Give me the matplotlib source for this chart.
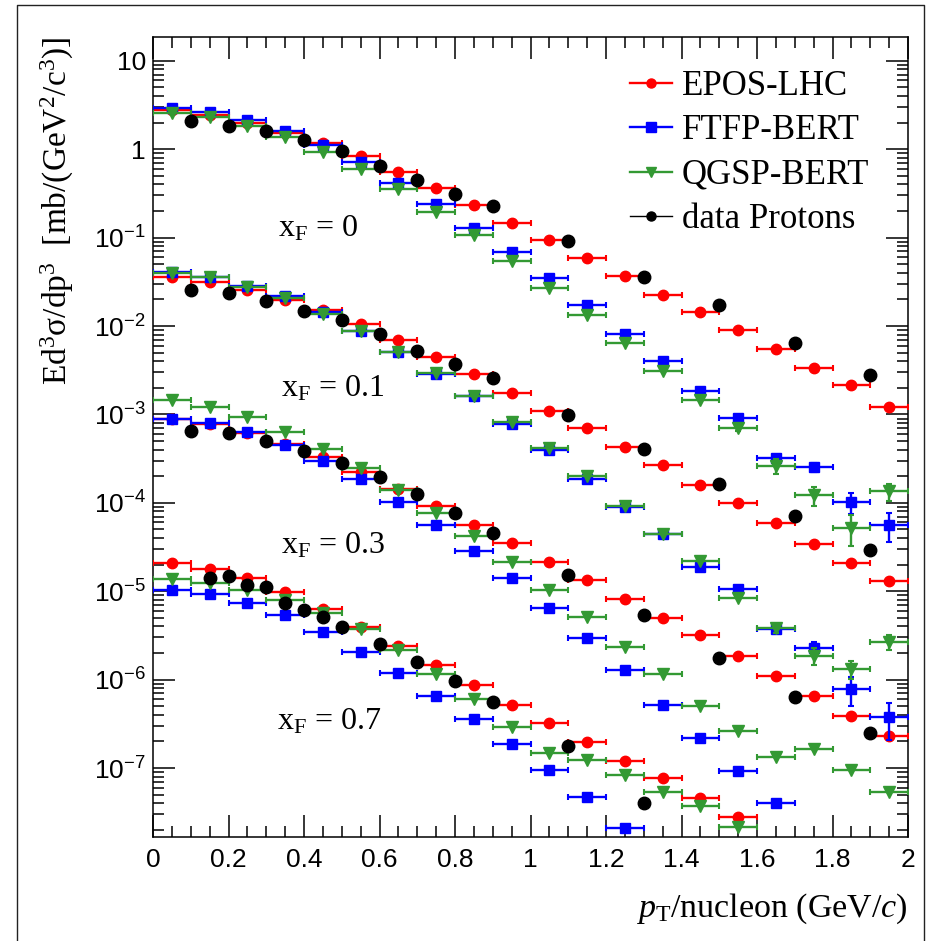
import matplotlib
matplotlib.use("Agg")
import matplotlib.pyplot as plt
from matplotlib.lines import Line2D
from matplotlib.ticker import FixedLocator, FuncFormatter
import numpy as np

plt.rcParams['font.family'] = 'Liberation Sans'
plt.rcParams['mathtext.fontset'] = 'custom'
plt.rcParams['mathtext.rm'] = 'Liberation Serif'
plt.rcParams['mathtext.it'] = 'Liberation Serif:italic'
plt.rcParams['mathtext.bf'] = 'Liberation Serif:bold'

nan = np.nan

# pT bin centres for the models, and pT points of the data
pt_bins = [0.05, 0.15, 0.25, 0.35, 0.45, 0.55, 0.65, 0.75, 0.85, 0.95,
           1.05, 1.15, 1.25, 1.35, 1.45, 1.55, 1.65, 1.75, 1.85, 1.95]
pt_data = [0.1, 0.2, 0.3, 0.4, 0.5, 0.6, 0.7, 0.8, 0.9, 1.1, 1.3, 1.5, 1.7, 1.9]
pt_data_07 = [0.15, 0.2, 0.25, 0.3, 0.35, 0.4, 0.45, 0.5, 0.6, 0.7, 0.8, 0.9, 1.1, 1.3]

# xF = 0
epos_0 = [2.79, 2.45, 2.0, 1.53, 1.19, 0.83, 0.55, 0.363, 0.237, 0.148,
          0.0944, 0.0596, 0.037, 0.0227, 0.0144, 9.06e-3, 5.52e-3, 3.34e-3, 2.16e-3, 1.23e-3]
ftfp_0 = [2.9, 2.67, 2.15, 1.63, 1.13, 0.714, 0.42, 0.241, 0.13, 0.0686,
          0.0348, 0.0174, 8.17e-3, 4.04e-3, 1.86e-3, 9.08e-4, 3.2e-4, 2.53e-4, 1.01e-4, 5.6e-5]
ftfp_0_err = [0]*16 + [2e-5, 3e-5, 2.7e-5, 2e-5]
qgsp_0 = [2.56, 2.31, 1.81, 1.37, 0.935, 0.6, 0.354, 0.196, 0.1076, 0.055,
          0.0268, 0.0134, 6.4e-3, 3.11e-3, 1.46e-3, 7.0e-4, 2.64e-4, 1.23e-4, 5.25e-5, 1.35e-4]
qgsp_0_err = [0]*15 + [5e-5, 5e-5, 3e-5, 2e-5, 3e-5]
data_0 = [2.11, 1.81, 1.63, 1.28, 0.966, 0.648, 0.447, 0.315, 0.231, 0.092,
          0.0363, 0.0172, 6.4e-3, 2.8e-3]

# xF = 0.1
epos_01 = [0.0363, 0.0319, 0.0257, 0.0199, 0.0150, 0.0106, 6.98e-3, 4.45e-3, 2.88e-3, 1.77e-3,
           1.1e-3, 7.0e-4, 4.34e-4, 2.67e-4, 1.6e-4, 9.9e-5, 5.9e-5, 3.43e-5, 2.08e-5, 1.29e-5]
ftfp_01 = [0.0414, 0.0363, 0.0285, 0.022, 0.0145, 8.9e-3, 5.15e-3, 2.88e-3, 1.6e-3, 7.83e-4,
           3.98e-4, 1.85e-4, 9.08e-5, 4.42e-5, 1.9e-5, 1.06e-5, 3.7e-6, 2.3e-6, 7.8e-7, 3.76e-7]
ftfp_01_err = [0]*17 + [3.5e-7, 2.8e-7, 1.7e-7]
qgsp_01 = [0.0396, 0.036, 0.028, 0.021, 0.01374, 8.7e-3, 5.15e-3, 2.93e-3, 1.6e-3, 8.3e-4,
           4.15e-4, 2.02e-4, 9.3e-5, 4.4e-5, 2.2e-5, 8.35e-6, 3.8e-6, 1.86e-6, 1.32e-6, 2.67e-6]
qgsp_01_err = [0]*16 + [4e-7, 4e-7, 3e-7, 5e-7]
data_01 = [0.0257, 0.0235, 0.0193, 0.0149, 0.01156, 8.17e-3, 5.28e-3, 3.73e-3, 2.57e-3, 9.9e-4,
           4.08e-4, 1.63e-4, 7.06e-5, 2.96e-5]

# xF = 0.3
epos_03 = [8.8e-4, 7.9e-4, 6.2e-4, 4.6e-4, 3.34e-4, 2.26e-4, 1.44e-4, 9.25e-5, 5.6e-5, 3.5e-5,
           2.13e-5, 1.35e-5, 8.2e-6, 5.0e-6, 3.16e-6, 1.86e-6, 1.1e-6, 6.45e-7, 3.92e-7, 2.31e-7]
ftfp_03 = [8.9e-4, 7.96e-4, 6.3e-4, 4.53e-4, 3.01e-4, 1.85e-4, 1.03e-4, 5.6e-5, 2.88e-5, 1.41e-5,
           6.5e-6, 2.94e-6, 1.29e-6, 5.2e-7, 2.21e-7, 9.3e-8, 4.0e-8, nan, nan, nan]
qgsp_03 = [1.46e-3, 1.23e-3, 9.3e-4, 6.4e-4, 4.11e-4, 2.47e-4, 1.4e-4, 7.76e-5, 4.17e-5, 2.13e-5,
           1.04e-5, 5.1e-6, 2.37e-6, 1.16e-6, 5.06e-7, 2.64e-7, 1.35e-7, 1.65e-7, 9.55e-8, 5.3e-8]
data_03 = [6.58e-4, 6.14e-4, 5.0e-4, 3.9e-4, 2.8e-4, 1.95e-4, 1.26e-4, 7.76e-5, 4.6e-5, 1.53e-5,
           5.4e-6, 1.78e-6, 6.3e-7, 2.46e-7]

# xF = 0.7
epos_07 = [2.11e-5, 1.78e-5, 1.41e-5, 9.7e-6, 6.27e-6, 3.92e-6, 2.43e-6, 1.47e-6, 8.7e-7, 5.2e-7,
           3.22e-7, 1.96e-7, 1.2e-7, 7.7e-8, 4.57e-8, 2.8e-8, nan, nan, nan, nan]
ftfp_07 = [1.04e-5, 9.3e-6, 7.3e-6, 5.4e-6, 3.45e-6, 2.08e-6, 1.2e-6, 6.6e-7, 3.6e-7, 1.88e-7,
           9.55e-8, 4.65e-8, 2.12e-8, nan, nan, nan, nan, nan, nan, nan]
qgsp_07 = [1.37e-5, 1.23e-5, 1.02e-5, 8.0e-6, 5.65e-6, 3.7e-6, 2.17e-6, 1.15e-6, 6.0e-7, 2.9e-7,
           1.47e-7, 1.22e-7, 8.4e-8, 5.3e-8, 3.7e-8, 2.15e-8, nan, nan, nan, nan]
data_07 = [1.41e-5, 1.49e-5, 1.18e-5, 1.11e-5, 7.3e-6, 6.2e-6, 5.1e-6, 3.92e-6, 2.54e-6, 1.58e-6,
           9.77e-7, 5.56e-7, 1.78e-7, 4.0e-8]

zeros = [0]*20
panels = [
    (epos_0, ftfp_0, ftfp_0_err, qgsp_0, qgsp_0_err, pt_data, data_0),
    (epos_01, ftfp_01, ftfp_01_err, qgsp_01, qgsp_01_err, pt_data, data_01),
    (epos_03, ftfp_03, zeros, qgsp_03, zeros, pt_data, data_03),
    (epos_07, ftfp_07, zeros, qgsp_07, zeros, pt_data_07, data_07),
]
xf_labels = ['0', '0.1', '0.3', '0.7']
xf_pos = [(0.166, 0.751), (0.170, 0.550), (0.170, 0.355), (0.164, 0.135)]

red = '#ff0000'
blue = '#0000ff'
green = '#339933'

fig = plt.figure(figsize=(9.3, 9.41), dpi=100)
ax = fig.add_axes([153/930, 1-837/941, 755/930, 800/941])

ebkw = dict(xerr=0.05, linestyle='none', elinewidth=1.7, capsize=2.3, capthick=1.5)
for epos, ftfp, ftfp_err, qgsp, qgsp_err, ptd, dat in panels:
    ax.errorbar(pt_bins, epos, fmt='o', color=red, markersize=7.5, zorder=3, **ebkw)
    ax.errorbar(pt_bins, ftfp, yerr=ftfp_err, fmt='s', color=blue, markersize=7.2, zorder=4, **ebkw)
    ax.errorbar(pt_bins, qgsp, yerr=qgsp_err, fmt='v', color=green, markersize=8, zorder=5, **ebkw)
    ax.plot(ptd, dat, 'o', color='black', markersize=9, linestyle='none', zorder=6)

for lab, (tx, ty) in zip(xf_labels, xf_pos):
    ax.text(tx, ty, r'x$_{\rm F}$ = ' + lab, transform=ax.transAxes, family='Liberation Serif',
            fontsize=23, va='baseline', ha='left')

ax.set_yscale('log')
ax.set_xlim(0, 2)
ax.set_ylim(10**-7.78, 10**1.27)

ax.xaxis.set_major_locator(FixedLocator(np.arange(0, 2.01, 0.2)))
ax.xaxis.set_minor_locator(FixedLocator(np.arange(0, 2.01, 0.05)))
ax.xaxis.set_major_formatter(FuncFormatter(lambda v, p: '%g' % round(v, 2)))

def ylab(v, p):
    e = int(round(np.log10(v)))
    if e == 0:
        return '1'
    if e == 1:
        return '10'
    return r'$\mathregular{10^{%d}}$' % e
ax.yaxis.set_major_formatter(FuncFormatter(ylab))

ax.tick_params(which='both', direction='in', top=True, right=True, width=1.1, labelsize=19)
ax.tick_params(which='major', length=16)
ax.tick_params(which='minor', length=8)
ax.tick_params(axis='x', which='major', pad=8)
ax.tick_params(axis='y', which='major', pad=5)
for s in ax.spines.values():
    s.set_linewidth(1.1)

handles = [
    Line2D([], [], color=red, marker='o', markersize=6.5, lw=1.7),
    Line2D([], [], color=blue, marker='s', markersize=6.5, lw=1.7),
    Line2D([], [], color=green, marker='v', markersize=6.5, lw=1.7),
    Line2D([], [], color='black', marker='o', markersize=6.5, lw=1.0),
]
names = ['EPOS-LHC', 'FTFP-BERT', 'QGSP-BERT', 'data Protons']
fig.legend(handles, names, loc='upper left', bbox_to_anchor=(630/930, 1-70/941),
           frameon=False, prop={'family': 'Liberation Serif', 'size': 25},
           handlelength=1.2, handletextpad=0.3, labelspacing=0.33, borderpad=0, borderaxespad=0)

fig.text(57/930, 1-37/941, r'Ed$^{\rm 3}$σ/dp$^{\rm 3}$  [mb/(GeV$^{\rm 2}$/c$^{\rm 3}$)]',
         rotation=90, ha='center', va='top', family='Liberation Serif', fontsize=24)
fig.text(908/930, 1-917/941, r'$\mathit{p}_{\rm T}$/nucleon (GeV/$\mathit{c}$)',
         ha='right', va='baseline', family='Liberation Serif', fontsize=24.5)

# thin frame round the canvas (left, top, right)
x0, x1, ytop = 17/930, 924/930, 1-5/941
fig.lines.append(Line2D([x0, x0, x1, x1], [0, ytop, ytop, 0], transform=fig.transFigure,
                        color='#222222', lw=1.0))

fig.savefig('out.png', dpi=100)
